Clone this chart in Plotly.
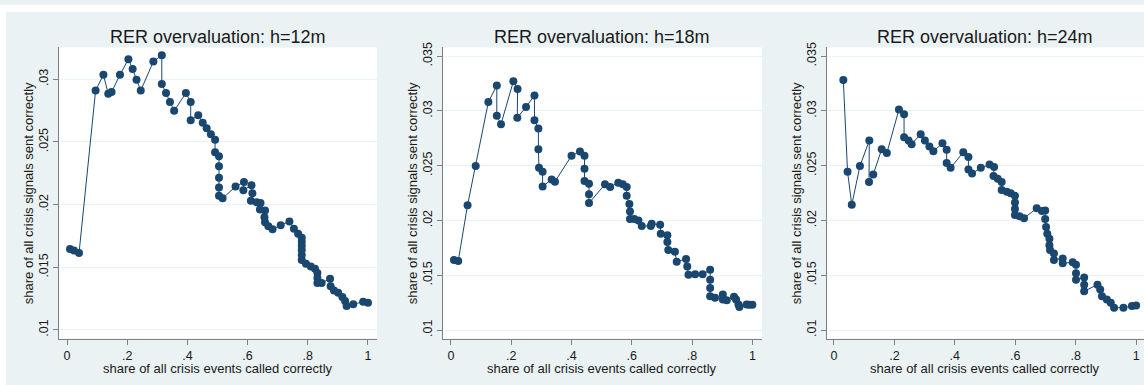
import plotly.graph_objects as go

# ---------------- data ----------------
titles = ["RER overvaluation: h=12m", "RER overvaluation: h=18m", "RER overvaluation: h=24m"]
x_label = "share of all crisis events called correctly"
y_label = "share of all crisis signals sent correctly"

x_tick_vals = [0, 0.2, 0.4, 0.6, 0.8, 1.0]
x_tick_text = ["0", ".2", ".4", ".6", ".8", "1"]
y_tick_vals_12 = [0.01, 0.015, 0.02, 0.025, 0.03]
y_tick_text_12 = [".01", ".015", ".02", ".025", ".03"]
y_tick_vals_18 = [0.01, 0.015, 0.02, 0.025, 0.03, 0.035]
y_tick_text_18 = [".01", ".015", ".02", ".025", ".03", ".035"]

x_h12 = [.010, .023, .040, .095, .121, .137, .148, .176, .204, .218, .231, .245, .287, .315, .315,
         .329, .342, .356, .395, .411, .411, .436, .451, .464, .478, .492, .492, .505, .505, .505,
         .505, .505, .517, .560, .588, .586, .613, .616, .611, .630, .643, .641, .658, .656, .658,
         .669, .683, .710, .739, .754, .768, .780, .780, .780, .780, .780, .780, .794, .810, .824,
         .832, .832, .832, .846, .874, .876, .887, .901, .915, .924, .929, .951, .984, 1.0]
y_h12 = [.01646, .01633, .01615, .0291, .03036, .02884, .02898, .03036, .0316, .03081, .02997, .0291,
         .03142, .03191, .02963, .0289, .02819, .02748, .0289, .02819, .02674, .02713, .02654, .02609,
         .02561, .02517, .02417, .02386, .02307, .02215, .02136, .02071, .0205, .02144, .02181, .02115,
         .02154, .02091, .02031, .02018, .02013, .01961, .01953, .019, .0186, .01827, .01803, .01835,
         .01866, .01808, .01768, .01735, .01703, .01672, .01638, .01598, .01559, .01528, .01506, .01488,
         .01454, .01414, .01375, .01375, .01409, .01349, .01315, .01296, .01262, .01231, .01191, .01205,
         .01225, .01217]

x_h18 = [.010, .024, .055, .082, .124, .152, .152, .166, .207, .221, .220, .249, .277, .277, .290,
         .290, .292, .304, .304, .334, .345, .400, .428, .443, .443, .443, .458, .458, .458, .511,
         .528, .555, .570, .583, .583, .592, .594, .594, .608, .622, .633, .663, .666, .694, .696,
         .718, .718, .721, .743, .749, .780, .784, .788, .810, .835, .860, .860, .860, .860, .876,
         .902, .902, .915, .939, .946, .954, .957, .981, .990, 1.0]
y_h18 = [.0164, .0163, .0214, .02496, .03081, .03231, .02955, .02879, .0327, .0320, .02937, .03036,
         .03141, .02915, .0284, .02651, .0248, .02444, .02309, .02375, .02354, .02591, .0263, .02591,
         .02471, .0236, .02336, .0224, .02159, .0233, .02306, .02345, .0233, .02306, .02225, .0215,
         .02081, .02014, .02014, .0200, .01949, .01949, .0197, .0196, .01879, .01865, .01804, .0173,
         .01714, .01624, .01649, .01579, .01505, .0151, .0151, .0155, .01459, .01384, .01309, .01294,
         .01324, .01279, .01273, .01303, .01279, .01234, .0121, .01234, .0123, .0123]

x_h24 = [.031, .045, .059, .086, .117, .116, .130, .158, .175, .215, .232, .232, .247, .257, .287,
         .301, .316, .329, .359, .373, .373, .386, .428, .445, .445, .457, .486, .515, .530, .528,
         .542, .555, .555, .572, .585, .599, .599, .599, .599, .614, .629, .671, .688, .699, .699,
         .702, .706, .713, .713, .715, .728, .728, .757, .757, .790, .801, .801, .801, .828, .828,
         .828, .872, .881, .887, .903, .916, .927, .958, .986, 1.0]
y_h24 = [.03282, .02444, .02144, .02496, .0273, .02351, .0242, .02651, .02615, .03012, .02969, .0276,
         .0273, .02696, .02787, .0273, .02676, .02631, .02705, .02645, .02525, .0248, .02622, .02579,
         .02465, .02429, .0248, .0251, .02489, .02405, .02381, .02351, .02279, .02261, .02249, .02225,
         .02165, .02105, .0205, .02039, .02021, .02111, .02087, .0209, .02014, .0194, .01879, .01834,
         .01775, .0173, .01699, .0164, .01654, .01609, .01618, .01595, .01519, .01459, .0148, .01414,
         .01354, .01414, .01369, .01309, .01279, .01249, .01204, .01204, .01219, .01225]

# ---------------- layout / style ----------------
W, H = 1144, 385
NAVY = "#1A476F"
BG = "#EAF2F3"
AXIS = "#808080"
TXT = "#1a1a1a"
FONT = "Liberation Sans, Arial, sans-serif"

panels = [
    dict(x=x_h12, y=y_h12, title=titles[0], yv=y_tick_vals_12, yt=y_tick_text_12,
         xdom=(58.7, 377.0), xr=(-0.0276, 1.030), yr=(0.00931, 0.03254)),
    dict(x=x_h18, y=y_h18, title=titles[1], yv=y_tick_vals_18, yt=y_tick_text_18,
         xdom=(442.7, 762.0), xr=(-0.0275, 1.032), yr=(0.00922, 0.03579)),
    dict(x=x_h24, y=y_h24, title=titles[2], yv=y_tick_vals_18, yt=y_tick_text_18,
         xdom=(826.7, 1144.0), xr=(-0.024, 1.026), yr=(0.00922, 0.03579)),
]
ydom = (1 - 338 / H, 1 - 43 / H)

fig = go.Figure()
annotations = []
layout_axes = {}
for i, p in enumerate(panels):
    n = "" if i == 0 else str(i + 1)
    fig.add_trace(go.Scatter(
        x=p["x"], y=p["y"], mode="lines+markers",
        line=dict(color=NAVY, width=1),
        marker=dict(color=NAVY, size=8, line=dict(width=0)),
        xaxis="x" + n, yaxis="y" + n, showlegend=False, hoverinfo="skip"))
    d0, d1 = p["xdom"][0] / W, p["xdom"][1] / W
    layout_axes["xaxis" + n] = dict(
        domain=[d0, d1], range=list(p["xr"]), anchor="y" + n,
        tickvals=x_tick_vals, ticktext=x_tick_text, ticks="outside", ticklen=5,
        tickcolor=AXIS, tickwidth=1, showline=True, linecolor=AXIS, linewidth=1,
        showgrid=False, zeroline=False, tickfont=dict(size=12.5, color=TXT, family=FONT))
    layout_axes["yaxis" + n] = dict(
        domain=list(ydom), range=list(p["yr"]), anchor="x" + n,
        tickvals=p["yv"], ticktext=p["yt"], ticks="outside", ticklen=5, tickangle=-90,
        tickcolor=AXIS, tickwidth=1, showline=True, linecolor=AXIS, linewidth=1,
        showgrid=True, gridcolor=BG, gridwidth=1, zeroline=False,
        tickfont=dict(size=12.5, color=TXT, family=FONT))
    cx = (d0 + d1) / 2
    annotations.append(dict(text=p["title"], x=cx, y=1 - 32 / H, xref="paper", yref="paper",
                            xanchor="center", yanchor="middle", showarrow=False,
                            font=dict(size=18, color=TXT, family=FONT)))
    annotations.append(dict(text=x_label, x=cx, y=1 - 368.5 / H, xref="paper", yref="paper",
                            xanchor="center", yanchor="middle", showarrow=False,
                            font=dict(size=13, color=TXT, family=FONT)))
    annotations.append(dict(text=y_label, x=(p["xdom"][0] - 30.5) / W, y=1 - 190.5 / H,
                            xref="paper", yref="paper", textangle=-90,
                            xanchor="center", yanchor="middle", showarrow=False,
                            font=dict(size=13, color=TXT, family=FONT)))

shapes = [
    dict(type="rect", xref="paper", yref="paper", x0=0, x1=1, y0=1 - 7 / H, y1=1,
         fillcolor="white", line=dict(width=0), layer="below"),
    dict(type="rect", xref="paper", yref="paper", x0=0, x1=6 / W, y0=0, y1=1,
         fillcolor="white", line=dict(width=0), layer="below"),
]

fig.update_layout(
    width=W, height=H, margin=dict(l=0, r=0, t=0, b=0),
    paper_bgcolor=BG, plot_bgcolor="white",
    font=dict(family=FONT, color=TXT),
    annotations=annotations, shapes=shapes, **layout_axes)

fig.write_html("out.html")
